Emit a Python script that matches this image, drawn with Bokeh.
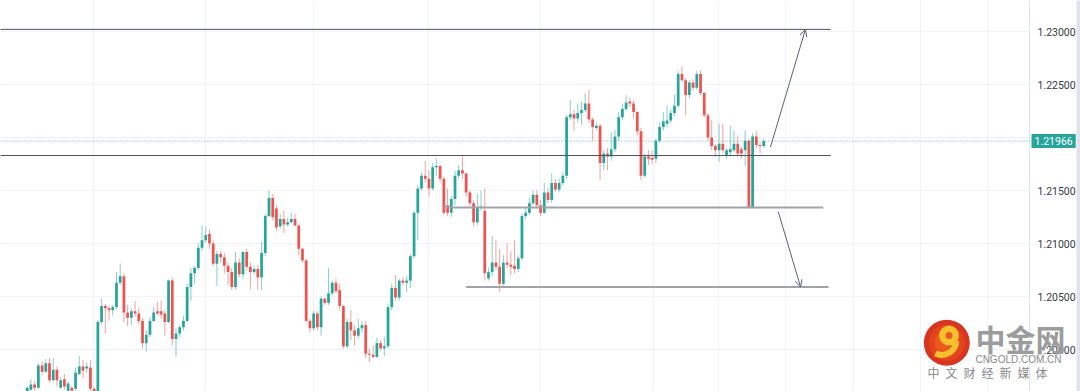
import numpy as np
from bokeh.plotting import figure
from bokeh.models import (Range1d, FixedTicker, PrintfTickFormatter, Span, Arrow,
                          OpenHead, Label, ColumnDataSource, BoxAnnotation)
from bokeh.embed import file_html
from bokeh.resources import INLINE

# ---------------- data (EUR/USD candles) ----------------
opens = [1.1960, 1.1962, 1.1967, 1.1964, 1.1985, 1.1979, 1.1987, 1.1971, 1.1981, 1.1964,
         1.1972, 1.1961, 1.1964, 1.1963, 1.1977, 1.1984, 1.1982, 1.1983, 1.1963, 1.1959,
         1.2026, 1.2041, 1.2039, 1.2037, 1.2040, 1.2063, 1.2069, 1.2035, 1.2030, 1.2036,
         1.2034, 1.2027, 1.2006, 1.2014, 1.2027, 1.2036, 1.2036, 1.2034, 1.2026, 1.2065,
         1.2010, 1.2015, 1.2021, 1.2027, 1.2059, 1.2072, 1.2077, 1.2096, 1.2103, 1.2109,
         1.2100, 1.2081, 1.2090, 1.2087, 1.2079, 1.2073, 1.2059, 1.2082, 1.2071, 1.2092,
         1.2078, 1.2073, 1.2076, 1.2068, 1.2091, 1.2126, 1.2143, 1.2133, 1.2116, 1.2123,
         1.2118, 1.2120, 1.2123, 1.2117, 1.2095, 1.2084, 1.2027, 1.2020, 1.2034, 1.2021,
         1.2048, 1.2044, 1.2053, 1.2063, 1.2056, 1.2041, 1.2003, 1.2026, 1.2018, 1.2013,
         1.2020, 1.2023, 1.1996, 1.1995, 1.1993, 1.2006, 1.2001, 1.2003, 1.2040, 1.2058,
         1.2049, 1.2065, 1.2063, 1.2065, 1.2088, 1.2129, 1.2152, 1.2164, 1.2161, 1.2152,
         1.2172, 1.2173, 1.2161, 1.2136, 1.2129, 1.2142, 1.2164, 1.2169, 1.2166, 1.2148,
         1.2138, 1.2120, 1.2134, 1.2131, 1.2067, 1.2073, 1.2082, 1.2078, 1.2062, 1.2082,
         1.2080, 1.2079, 1.2076, 1.2086, 1.2126, 1.2129, 1.2138, 1.2146, 1.2136, 1.2129,
         1.2148, 1.2141, 1.2157, 1.2151, 1.2157, 1.2164, 1.2219, 1.2222, 1.2218, 1.2223,
         1.2226, 1.2232, 1.2217, 1.2209, 1.2211, 1.2176, 1.2185, 1.2182, 1.2189, 1.2201,
         1.2219, 1.2227, 1.2234, 1.2232, 1.2224, 1.2206, 1.2164, 1.2182, 1.2181, 1.2180,
         1.2197, 1.2210, 1.2213, 1.2216, 1.2223, 1.2230, 1.2260, 1.2254, 1.2240, 1.2252,
         1.2247, 1.2260, 1.2242, 1.2221, 1.2200, 1.2192, 1.2188, 1.2194, 1.2183, 1.2186,
         1.2188, 1.2194, 1.2189, 1.2188, 1.2197, 1.2134, 1.2201, 1.2193, 1.2192]

highs = [1.1965, 1.1972, 1.1970, 1.1987, 1.1989, 1.1991, 1.1992, 1.1992, 1.1984, 1.1974,
         1.1977, 1.1970, 1.1966, 1.1983, 1.1994, 1.1990, 1.1988, 1.1990, 1.1965, 1.2028,
         1.2048, 1.2043, 1.2041, 1.2042, 1.2073, 1.2081, 1.2072, 1.2042, 1.2039, 1.2046,
         1.2039, 1.2030, 1.2018, 1.2031, 1.2040, 1.2045, 1.2046, 1.2037, 1.2066, 1.2068,
         1.2020, 1.2023, 1.2032, 1.2062, 1.2077, 1.2079, 1.2100, 1.2117, 1.2116, 1.2113,
         1.2103, 1.2093, 1.2093, 1.2091, 1.2082, 1.2077, 1.2092, 1.2086, 1.2093, 1.2095,
         1.2082, 1.2079, 1.2080, 1.2102, 1.2128, 1.2150, 1.2147, 1.2136, 1.2128, 1.2131,
         1.2124, 1.2129, 1.2128, 1.2118, 1.2096, 1.2086, 1.2029, 1.2036, 1.2036, 1.2050,
         1.2049, 1.2077, 1.2065, 1.2067, 1.2062, 1.2042, 1.2029, 1.2037, 1.2023, 1.2029,
         1.2027, 1.2027, 1.2001, 1.2004, 1.2011, 1.2009, 1.2012, 1.2043, 1.2062, 1.2070,
         1.2067, 1.2068, 1.2069, 1.2090, 1.2131, 1.2155, 1.2167, 1.2178, 1.2169, 1.2176,
         1.2180, 1.2174, 1.2163, 1.2152, 1.2145, 1.2169, 1.2174, 1.2182, 1.2167, 1.2150,
         1.2141, 1.2147, 1.2150, 1.2152, 1.2077, 1.2107, 1.2103, 1.2095, 1.2089, 1.2100,
         1.2093, 1.2103, 1.2089, 1.2128, 1.2134, 1.2143, 1.2150, 1.2150, 1.2141, 1.2157,
         1.2153, 1.2166, 1.2161, 1.2161, 1.2167, 1.2221, 1.2235, 1.2226, 1.2232, 1.2234,
         1.2242, 1.2245, 1.2219, 1.2214, 1.2213, 1.2188, 1.2190, 1.2205, 1.2207, 1.2224,
         1.2232, 1.2240, 1.2238, 1.2235, 1.2225, 1.2209, 1.2184, 1.2188, 1.2188, 1.2199,
         1.2214, 1.2224, 1.2230, 1.2227, 1.2240, 1.2263, 1.2267, 1.2256, 1.2254, 1.2255,
         1.2263, 1.2263, 1.2243, 1.2223, 1.2216, 1.2194, 1.2213, 1.2213, 1.2190, 1.2211,
         1.2207, 1.2202, 1.2191, 1.2207, 1.2199, 1.2204, 1.2206, 1.2195, 1.2199]

lows = [1.1957, 1.1961, 1.1961, 1.1963, 1.1976, 1.1978, 1.1969, 1.1970, 1.1965, 1.1963,
        1.1962, 1.1960, 1.1959, 1.1961, 1.1976, 1.1973, 1.1978, 1.1961, 1.1954, 1.1956,
        1.2024, 1.2015, 1.2027, 1.2032, 1.2038, 1.2061, 1.2026, 1.2022, 1.2023, 1.2031,
        1.2024, 1.2001, 1.1998, 1.2012, 1.2026, 1.2032, 1.2029, 1.2013, 1.2025, 1.2004,
        1.1993, 1.2012, 1.2018, 1.2026, 1.2046, 1.2062, 1.2075, 1.2093, 1.2101, 1.2095,
        1.2079, 1.2060, 1.2082, 1.2072, 1.2061, 1.2056, 1.2057, 1.2068, 1.2067, 1.2075,
        1.2057, 1.2071, 1.2056, 1.2056, 1.2088, 1.2125, 1.2122, 1.2112, 1.2114, 1.2110,
        1.2116, 1.2119, 1.2116, 1.2089, 1.2082, 1.2026, 1.2016, 1.2018, 1.2018, 1.2013,
        1.2042, 1.2042, 1.2051, 1.2053, 1.2037, 1.2001, 1.2001, 1.2009, 1.2004, 1.2010,
        1.2016, 1.1992, 1.1988, 1.1992, 1.1992, 1.1999, 1.1994, 1.2001, 1.2037, 1.2046,
        1.2046, 1.2061, 1.2054, 1.2058, 1.2086, 1.2103, 1.2150, 1.2158, 1.2144, 1.2150,
        1.2164, 1.2158, 1.2127, 1.2126, 1.2125, 1.2136, 1.2161, 1.2161, 1.2144, 1.2135,
        1.2116, 1.2117, 1.2131, 1.2065, 1.2065, 1.2069, 1.2075, 1.2054, 1.2060, 1.2077,
        1.2070, 1.2072, 1.2073, 1.2084, 1.2123, 1.2127, 1.2136, 1.2133, 1.2126, 1.2128,
        1.2138, 1.2138, 1.2149, 1.2148, 1.2155, 1.2161, 1.2216, 1.2207, 1.2214, 1.2212,
        1.2224, 1.2214, 1.2197, 1.2207, 1.2160, 1.2169, 1.2169, 1.2178, 1.2186, 1.2197,
        1.2216, 1.2225, 1.2229, 1.2218, 1.2202, 1.2160, 1.2162, 1.2174, 1.2175, 1.2176,
        1.2195, 1.2207, 1.2210, 1.2214, 1.2220, 1.2228, 1.2252, 1.2221, 1.2237, 1.2244,
        1.2245, 1.2240, 1.2219, 1.2197, 1.2188, 1.2182, 1.2177, 1.2185, 1.2180, 1.2182,
        1.2186, 1.2182, 1.2180, 1.2173, 1.2133, 1.2133, 1.2190, 1.2185, 1.2190]

closes = [1.1964, 1.1967, 1.1964, 1.1985, 1.1979, 1.1987, 1.1971, 1.1981, 1.1971, 1.1971,
          1.1965, 1.1968, 1.1961, 1.1978, 1.1984, 1.1980, 1.1984, 1.1963, 1.1960, 1.2026,
          1.2041, 1.2039, 1.2037, 1.2040, 1.2063, 1.2069, 1.2035, 1.2030, 1.2036, 1.2034,
          1.2027, 1.2006, 1.2014, 1.2027, 1.2035, 1.2034, 1.2033, 1.2026, 1.2065, 1.2010,
          1.2015, 1.2021, 1.2027, 1.2059, 1.2072, 1.2077, 1.2096, 1.2103, 1.2108, 1.2100,
          1.2081, 1.2090, 1.2087, 1.2079, 1.2073, 1.2059, 1.2082, 1.2071, 1.2092, 1.2078,
          1.2073, 1.2076, 1.2068, 1.2091, 1.2126, 1.2143, 1.2125, 1.2115, 1.2123, 1.2118,
          1.2120, 1.2123, 1.2117, 1.2095, 1.2084, 1.2027, 1.2020, 1.2034, 1.2021, 1.2048,
          1.2044, 1.2053, 1.2063, 1.2055, 1.2041, 1.2003, 1.2026, 1.2018, 1.2013, 1.2020,
          1.2023, 1.1996, 1.1995, 1.1993, 1.2006, 1.2001, 1.2003, 1.2040, 1.2058, 1.2049,
          1.2065, 1.2063, 1.2065, 1.2088, 1.2129, 1.2152, 1.2164, 1.2161, 1.2152, 1.2172,
          1.2173, 1.2161, 1.2129, 1.2129, 1.2142, 1.2164, 1.2169, 1.2166, 1.2148, 1.2138,
          1.2120, 1.2134, 1.2135, 1.2072, 1.2073, 1.2082, 1.2078, 1.2062, 1.2082, 1.2080,
          1.2078, 1.2076, 1.2086, 1.2126, 1.2129, 1.2138, 1.2146, 1.2136, 1.2129, 1.2148,
          1.2141, 1.2157, 1.2151, 1.2157, 1.2164, 1.2219, 1.2222, 1.2218, 1.2223, 1.2226,
          1.2232, 1.2217, 1.2210, 1.2211, 1.2176, 1.2185, 1.2182, 1.2189, 1.2201, 1.2219,
          1.2227, 1.2233, 1.2232, 1.2224, 1.2206, 1.2164, 1.2182, 1.2180, 1.2179, 1.2197,
          1.2210, 1.2215, 1.2216, 1.2223, 1.2230, 1.2260, 1.2254, 1.2240, 1.2252, 1.2247,
          1.2260, 1.2242, 1.2221, 1.2200, 1.2192, 1.2188, 1.2194, 1.2188, 1.2188, 1.2189,
          1.2194, 1.2185, 1.2185, 1.2197, 1.2134, 1.2201, 1.2193, 1.2192, 1.21966]

last_price = 1.21966
price_ticks = [1.195, 1.200, 1.205, 1.210, 1.215, 1.220, 1.225, 1.230, 1.235]
price_label = "1.21966"

# hand-drawn levels on the chart (price, from bar, to bar)
level_prices = [1.2302, 1.2183, 1.2134, 1.2059]
level_from = [-12.0, -12.0, 112.0, 118.0]
level_to = [216.0, 216.0, 214.0, 215.4]
# projection arrows (bar, price) -> (bar, price)
up_arrow = (199.8, 1.2191, 209.2, 1.2302)
down_arrow = (201.9, 1.2130, 207.9, 1.2059)
# time grid positions (bar index of period separators)
time_grid = [17.8, 47.9, 77.0, 107.9, 138.0, 168.4, 185.8, 203.8, 222.1, 240.1, 258.1]

watermark_title = "中金网"
watermark_site = "CNGOLD.COM.CN"
watermark_slogan = "\u2002".join(list("中文财经新媒体"))

# ---------------- layout constants (bar units / price units) ----------------
X_LEFT, X_RIGHT = -7.177, 283.145        # whole canvas width in bar units
Y_BOTTOM, Y_TOP = 1.196038, 1.232925
SCALE_EDGE = 269.44                      # left edge of the price scale
SCROLL_EDGE = 282.07

UP = "#26a69a"
DOWN = "#ef5350"
ONE_PX = 0.0000943

o = np.array(opens); c = np.array(closes)
h = np.maximum.reduce([np.array(highs), o, c])
l = np.minimum.reduce([np.array(lows), o, c])
x = np.arange(len(o))
top = np.maximum(o, c)
bot = np.minimum(o, c)
mid = (top + bot) / 2
small = (top - bot) < ONE_PX
top = np.where(small, mid + ONE_PX / 2, top)
bot = np.where(small, mid - ONE_PX / 2, bot)
colors = [UP if cc >= oo else DOWN for oo, cc in zip(o, c)]

src = ColumnDataSource(dict(x=x, high=h, low=l, top=top, bottom=bot, color=colors))

p = figure(width=1080, height=391,
           x_range=Range1d(X_LEFT, X_RIGHT), y_range=Range1d(Y_BOTTOM, Y_TOP),
           y_axis_location="right", output_backend="svg", toolbar_location=None,
           min_border=0, min_border_left=0, min_border_right=0,
           min_border_top=0, min_border_bottom=0,
           background_fill_color="white", border_fill_color="white")
p.outline_line_color = None
p.xaxis.visible = False
p.xgrid.ticker = FixedTicker(ticks=time_grid)
p.xgrid.grid_line_color = "#f0f3fa"
p.ygrid.grid_line_color = "#f0f3fa"
p.yaxis.ticker = FixedTicker(ticks=price_ticks)
p.yaxis.formatter = PrintfTickFormatter(format="%.5f")
p.yaxis.major_label_text_font = "Roboto"
p.yaxis.major_label_text_font_size = "10.5px"
p.yaxis.major_label_text_color = "#363a45"
p.yaxis.major_tick_line_color = None
p.yaxis.minor_tick_line_color = None
p.yaxis.major_tick_in = 0
p.yaxis.major_tick_out = 0
p.yaxis.minor_tick_in = 0
p.yaxis.minor_tick_out = 0
p.yaxis.major_label_standoff = -43
p.yaxis.axis_line_color = None

# price-scale area: white background over the grid, border line
p.add_layout(BoxAnnotation(left=SCALE_EDGE, fill_color="white", fill_alpha=1.0,
                           line_color=None, level="underlay"))
p.add_layout(Span(location=SCALE_EDGE, dimension="height", line_color="#e0e3eb",
                  line_width=1, level="underlay"))

# last price dotted line
p.add_layout(Span(location=last_price, dimension="width", line_color=UP,
                  line_dash="1 2", line_width=1, line_alpha=0.8, level="underlay"))

# candles
p.segment(x0="x", y0="high", x1="x", y1="low", line_color="color", line_alpha=0.55,
          line_width=1, source=src)
p.vbar(x="x", top="top", bottom="bottom", width=0.74, fill_color="color",
       line_color=None, source=src)

# levels
p.segment(x0=level_from[:2], y0=level_prices[:2], x1=level_to[:2], y1=level_prices[:2],
          line_color="#50535e", line_width=1)
p.segment(x0=level_from[2:], y0=level_prices[2:], x1=level_to[2:], y1=level_prices[2:],
          line_color="#a0a3ab", line_width=2)

for a in (up_arrow, down_arrow):
    p.add_layout(Arrow(end=OpenHead(size=7, line_color="#5d606b", line_width=1),
                       x_start=a[0], y_start=a[1], x_end=a[2], y_end=a[3],
                       line_color="#5d606b", line_width=1))

# last price tag on the price scale
p.add_layout(Label(x=SCALE_EDGE, y=last_price, x_offset=2, text=price_label,
                   text_color="white", text_font="Roboto", text_font_size="10.5px",
                   text_baseline="middle", text_align="left",
                   background_fill_color=UP, padding=3))

# watermark logo
lx, ly = 247.2, 1.20063
p.scatter([lx], [ly], size=46, marker="circle", fill_color="#d8341f", line_color=None)
p.scatter([lx], [ly], size=36, marker="circle", fill_color="#e6491e", line_color=None, fill_alpha=0.8)
p.scatter([lx], [ly], size=24, marker="circle", fill_color="#f0621c", line_color=None, fill_alpha=0.7)
p.annular_wedge(x=[245.8], y=[1.2009], inner_radius=12, outer_radius=18,
                inner_radius_units="screen", outer_radius_units="screen",
                start_angle=np.deg2rad(-115), end_angle=np.deg2rad(-5),
                fill_color="#f8c02f", line_color=None)
p.annulus(x=[247.8], y=[1.20132], inner_radius=3.5, outer_radius=10,
          inner_radius_units="screen", outer_radius_units="screen",
          fill_color="#f8c02f", line_color=None)

p.add_layout(Label(x=254.9, y=1.20113, text=watermark_title, text_font="Noto Sans CJK SC",
                   text_font_style="bold", text_font_size="30px", text_color="#9c9c9c",
                   text_baseline="middle", text_align="left"))
p.add_layout(Label(x=254.9, y=1.19906, text=watermark_site, text_font="Liberation Sans",
                   text_font_size="10px", text_color="#8a8a8a",
                   text_baseline="middle", text_align="left"))
p.add_layout(Label(x=242.0, y=1.19783, text=watermark_slogan, text_font="Noto Sans CJK SC",
                   text_font_size="12px", text_color="#8a8a8a",
                   text_baseline="middle", text_align="left"))

# right-hand scroll strip
p.add_layout(BoxAnnotation(left=SCROLL_EDGE, fill_color="#e1e3ea", fill_alpha=1.0,
                           line_color=None, level="overlay"))

open("out.html", "w").write(file_html(p, INLINE))
